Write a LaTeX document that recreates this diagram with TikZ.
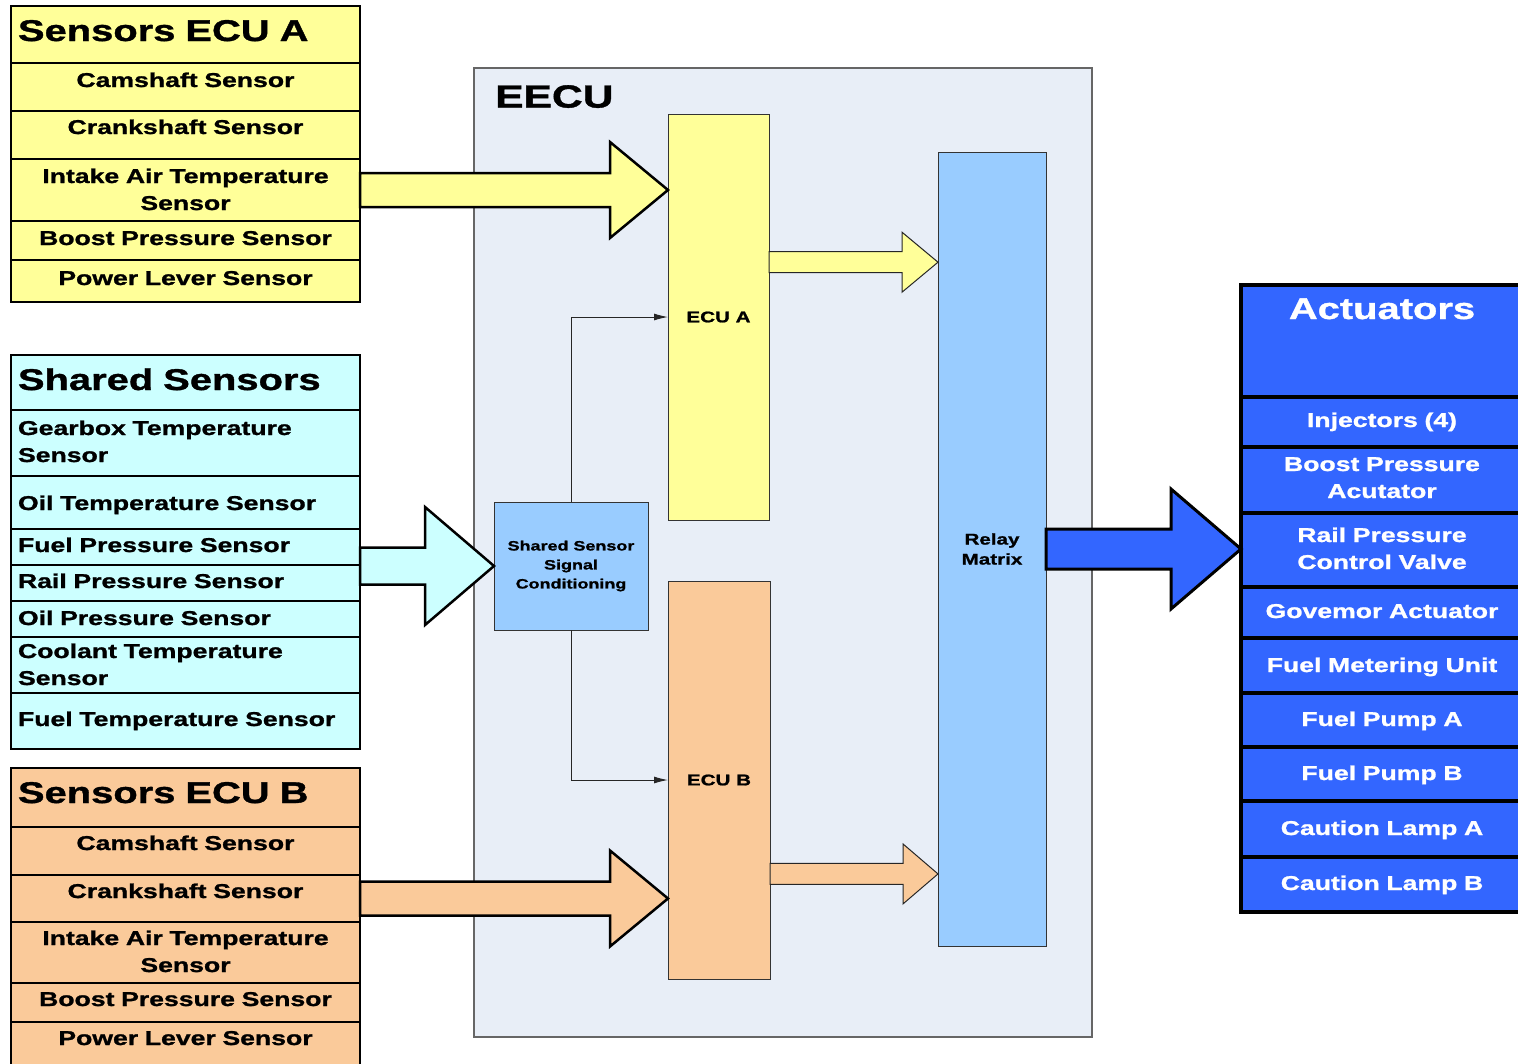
\documentclass[tikz,border=0pt]{standalone}
\usepackage{fontspec}
\newfontfamily\diagfont[FakeStretch=1.33,FakeBold=1.2]{Liberation Sans}
\usetikzlibrary{arrows.meta,positioning,calc}
\definecolor{sensyellow}{RGB}{255,255,153}
\definecolor{senscyan}{RGB}{204,255,255}
\definecolor{senspeach}{RGB}{250,202,154}
\definecolor{eecubg}{RGB}{232,238,247}
\definecolor{sigblue}{RGB}{153,204,255}
\definecolor{actblue}{RGB}{51,102,255}
\tikzset{
  sensrow/.style 2 args={
    draw=black,
    line width=2.8pt,
    outer sep=0pt,
    inner xsep=7pt,
    inner ysep=0pt,
    minimum width=349pt,
    text width=335pt,
    align=center,
    font=\diagfont\bfseries\fontsize{20}{27}\selectfont,
    minimum height=#1pt,
    text height=#2pt,
    /utils/exec={\pgfmathsetmacro\celldepth{#1-#2}},
    text depth=\celldepth pt
  },
  headrow/.style={align=left,font=\diagfont\bfseries\fontsize{30}{34}\selectfont},
  leftrow/.style={align=left},
  rowA/.style 2 args={sensrow={#1}{#2},fill=sensyellow},
  rowS/.style 2 args={sensrow={#1}{#2},fill=senscyan,leftrow},
  rowB/.style 2 args={sensrow={#1}{#2},fill=senspeach},
  actrow/.style 2 args={
    sensrow={#1}{#2},
    fill=actblue,
    text=white,
    line width=3.5pt,
    minimum width=282pt,
    text width=268pt
  },
  eecubox/.style={draw=black!60,fill=eecubg,line width=1.5pt,inner sep=0pt,outer sep=0pt},
  eecutitle/.style={font=\diagfont\bfseries\fontsize{32}{36}\selectfont,inner sep=0pt},
  unitbox/.style={
    draw=black!80,
    line width=1pt,
    align=center,
    inner sep=0pt,
    outer sep=0pt,
    font=\diagfont\bfseries\fontsize{15.5}{20}\selectfont
  },
  fatarrow/.style n args={3}{to path={
    let \p1=(\tikztostart), \p2=(\tikztotarget) in
    (\x1,\y1+#1) -- (\x2-#3,\y1+#1) -- (\x2-#3,\y1+#2) -- (\x2,\y1)
    -- (\x2-#3,\y1-#2) -- (\x2-#3,\y1-#1) -- (\x1,\y1-#1) -- cycle}},
  bigflow/.style={draw=black,line width=2.5pt,line join=miter},
  smallflow/.style={draw=black!85,line width=1pt,line join=miter},
  sigline/.style={-{Latex[length=14pt,width=7pt]},draw=black!85,line width=1pt}
}
\begin{document}
\begin{tikzpicture}[x=1pt,y=-1pt,node distance=0pt]
\useasboundingbox (0,0) rectangle (1518,1063);
% engine control unit
\node[eecubox,anchor=north west,minimum width=618pt,minimum height=969pt] (eecu) at (474,68) {};
\node[eecutitle,below right=17pt and 21pt of eecu.north west] (eecuT) {EECU};
\node[unitbox,fill=sensyellow,anchor=north west,minimum width=101pt,minimum height=406pt] (ecuA) at (668,114) {ECU A};
\node[unitbox,fill=senspeach,anchor=north west,minimum width=102pt,minimum height=398pt] (ecuB) at (668,581) {ECU B};
\node[unitbox,fill=sigblue,anchor=north west,minimum width=154pt,minimum height=128pt,
  font=\diagfont\bfseries\fontsize{13.5}{19}\selectfont] (ssc) at (494,502) {Shared Sensor\\Signal\\Conditioning};
\node[unitbox,fill=sigblue,anchor=north west,minimum width=108pt,minimum height=794pt] (relay) at (938,152) {Relay\\Matrix};
% sensors for ECU A
\node[rowA={57}{35},headrow,anchor=north west] (titleA) at (11,6) {Sensors ECU A};
\node[rowA={48}{24},below=of titleA] (camA) {Camshaft Sensor};
\node[rowA={48}{23},below=of camA] (crankA) {Crankshaft Sensor};
\node[rowA={62}{24},below=of crankA] (intA) {Intake Air Temperature\\Sensor};
\node[rowA={39}{24},below=of intA] (boostA) {Boost Pressure Sensor};
\node[rowA={42}{25},below=of boostA] (powerA) {Power Lever Sensor};
% shared sensors
\node[rowS={55}{35},headrow,anchor=north west] (titleS) at (11,355) {Shared Sensors};
\node[rowS={66}{25},below=of titleS] (gearS) {Gearbox Temperature\\Sensor};
\node[rowS={53}{34},below=of gearS] (oiltS) {Oil Temperature Sensor};
\node[rowS={36}{23},below=of oiltS] (fuelpS) {Fuel Pressure Sensor};
\node[rowS={36}{23},below=of fuelpS] (railS) {Rail Pressure Sensor};
\node[rowS={36}{24},below=of railS] (oilpS) {Oil Pressure Sensor};
\node[rowS={56}{21},below=of oilpS] (coolS) {Coolant Temperature\\Sensor};
\node[rowS={56}{33},below=of coolS] (fueltS) {Fuel Temperature Sensor};
% sensors for ECU B
\node[rowB={59}{35},headrow,anchor=north west] (titleB) at (11,768) {Sensors ECU B};
\node[rowB={48}{23},below=of titleB] (camB) {Camshaft Sensor};
\node[rowB={47}{23},below=of camB] (crankB) {Crankshaft Sensor};
\node[rowB={61}{23},below=of crankB] (intB) {Intake Air Temperature\\Sensor};
\node[rowB={39}{23},below=of intB] (boostB) {Boost Pressure Sensor};
\node[rowB={48}{23},below=of boostB] (powerB) {Power Lever Sensor};
% actuators
\node[actrow={112}{34},font=\diagfont\bfseries\fontsize{30}{34}\selectfont,anchor=north west] (titleAct) at (1241,285) {Actuators};
\node[actrow={50}{30},below=of titleAct] (injAct) {Injectors (4)};
\node[actrow={66}{24},below=of injAct] (boostAct) {Boost Pressure\\Acutator};
\node[actrow={74}{29},below=of boostAct] (railAct) {Rail Pressure\\Control Valve};
\node[actrow={51}{31},below=of railAct] (govAct) {Govemor Actuator};
\node[actrow={55}{34},below=of govAct] (fmuAct) {Fuel Metering Unit};
\node[actrow={54}{33},below=of fmuAct] (pumpaAct) {Fuel Pump A};
\node[actrow={54}{33},below=of pumpaAct] (pumpbAct) {Fuel Pump B};
\node[actrow={56}{34},below=of pumpbAct] (lampaAct) {Caution Lamp A};
\node[actrow={55}{33},below=of lampaAct] (lampbAct) {Caution Lamp B};
% flows
\coordinate (aout) at ($(ecuA.north east)!0.365!(ecuA.south east)$);
\coordinate (bout) at ($(ecuB.north east)!0.736!(ecuB.south east)$);
\draw[bigflow,fill=sensyellow,fatarrow={17pt}{48pt}{58pt}] (intA.east) to (ecuA.west |- intA.east);
\draw[bigflow,fill=senscyan,fatarrow={18.5pt}{59pt}{69pt}] (railS.north east |- ssc.west) to (ssc.west);
\draw[bigflow,fill=senspeach,fatarrow={17pt}{48pt}{58pt}] (crankB.east) to (ecuB.west |- crankB.east);
\draw[smallflow,fill=sensyellow,fatarrow={10.5pt}{30pt}{36pt}] (aout) to (relay.west |- aout);
\draw[smallflow,fill=senspeach,fatarrow={10.5pt}{30pt}{35pt}] (bout) to (relay.west |- bout);
\draw[bigflow,line width=3pt,fill=actblue,fatarrow={20pt}{60pt}{70pt}] (relay.east) to (railAct.west |- relay.east);
\draw[sigline] (ssc.north) |- (ecuA.west);
\draw[sigline] (ssc.south) |- (ecuB.west);
\end{tikzpicture}
\end{document}
